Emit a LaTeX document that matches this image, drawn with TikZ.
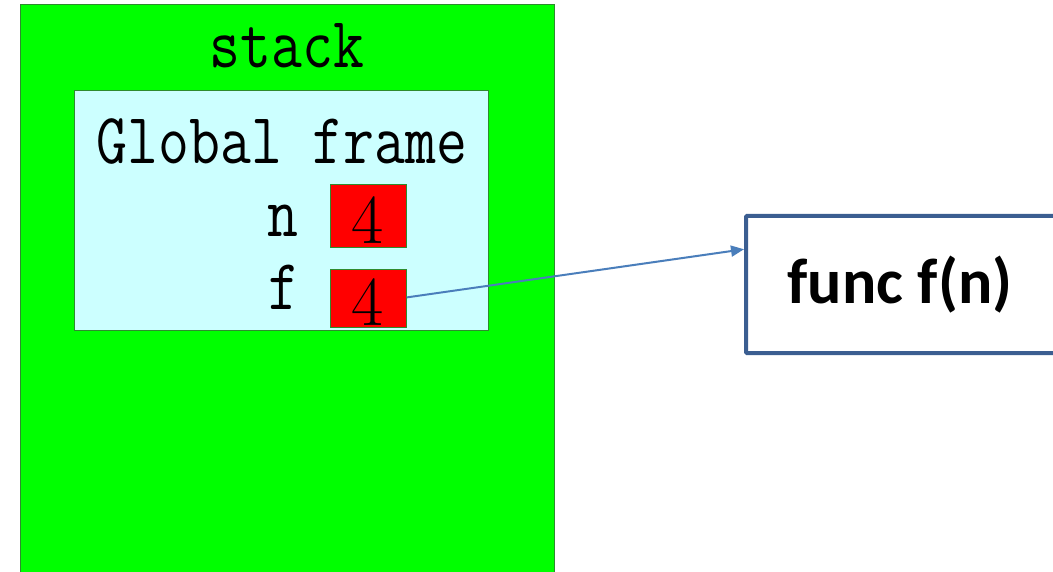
\documentclass[tikz,border=0pt]{standalone}
\usepackage{graphicx}
\usepackage{fontspec}
\newfontfamily\calib{Carlito}
\usetikzlibrary{arrows.meta,calc}
\definecolor{stackgreen}{HTML}{00FF00}
\definecolor{edgegreen}{HTML}{2E8B2E}
\definecolor{framecyan}{HTML}{CCFFFF}
\definecolor{cellred}{HTML}{FF0000}
\definecolor{arrowblue}{HTML}{4A7EBB}
\definecolor{boxblue}{HTML}{3B5E91}
\newcommand{\tallmono}[1]{\scalebox{1}[1.2]{#1}}
\tikzset{
  stackbox/.style={draw=edgegreen, fill=stackgreen, line width=0.8pt, anchor=north west, inner sep=0pt},
  framebox/.style={draw=edgegreen, fill=framecyan, line width=0.8pt, anchor=north west, inner sep=0pt},
  cellbox/.style={draw=edgegreen, fill=cellred, line width=0.8pt, anchor=north west, inner sep=0pt, minimum width=76pt},
  monotxt/.style={font=\fontsize{60}{60}\ttfamily, inner sep=0pt, anchor=base},
  digit/.style={font=\fontsize{70}{70}\rmfamily, inner sep=0pt, anchor=base},
  funcbox/.style={draw=boxblue, line width=4pt, fill=white, anchor=north west, inner sep=0pt, minimum width=312pt, minimum height=137pt, rounded corners=1pt},
  link/.style={draw=arrowblue, line width=2pt, -{Triangle[length=13pt,width=11pt]}}
}
\begin{document}
\begin{tikzpicture}[x=1pt,y=-1pt]
\useasboundingbox (0,0) rectangle (1053,572);
\clip (0,0) rectangle (1053,572);
\node[stackbox, minimum width=534pt, minimum height=580pt] (stack) at (20,4) {};
\node[monotxt] (stacklbl) at (287,68) {\tallmono{stack}};
\node[framebox, minimum width=414pt, minimum height=240pt] (frame) at (74,90) {};
\node[monotxt] (framelbl) at (282,164) {\tallmono{Global frame}};
\node[monotxt] (nlbl) at (283,237) {\tallmono{n}};
\node[monotxt] (flbl) at (284,310) {\tallmono{f}};
\node[cellbox, minimum height=63pt] (ncell) at (330,184) {};
\node[digit] (nval) at (368,244) {4};
\node[cellbox, minimum height=58pt] (fcell) at (330,269) {};
\node[digit] (fval) at (368,326) {4};
\node[funcbox] (func) at (744,214) {};
\node[font=\fontsize{64}{64}\calib\bfseries, inner sep=0pt, anchor=base] (functxt) at (900,304) {func f(n)};
\coordinate (target) at ($(func.north west)!0.25!(func.south west)$);
\draw[link] ($(fcell.east)+(0,-1)$) -- (target);
\end{tikzpicture}
\end{document}
